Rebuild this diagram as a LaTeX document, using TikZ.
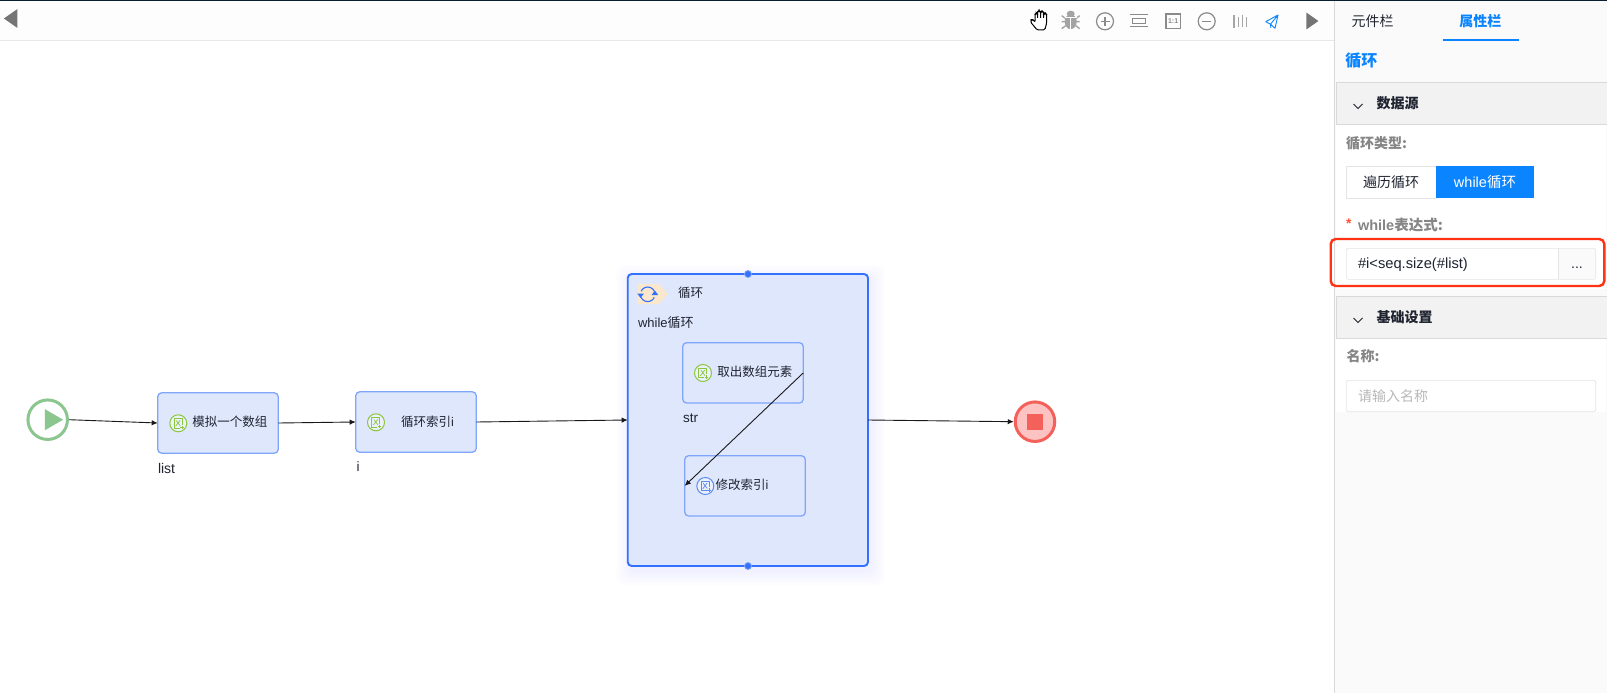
\documentclass[tikz,border=0pt]{standalone}
\usepackage{fontspec}
\setmainfont{Liberation Sans}
\newfontfamily\cjk{Noto Sans CJK SC}
\usetikzlibrary{arrows.meta,shapes.geometric}
\definecolor{boxfill}{HTML}{DFE7FD}
\definecolor{boxline}{HTML}{7FA6FB}
\definecolor{loopline}{HTML}{3370FF}
\definecolor{uiblue}{HTML}{0A84FF}
\definecolor{panelbg}{HTML}{FAFAFA}
\definecolor{headbg}{HTML}{F2F2F2}
\definecolor{rulegrey}{HTML}{D9D9D9}
\definecolor{toolgrey}{HTML}{8A8A8A}
\definecolor{labelgrey}{HTML}{858585}
\definecolor{startgreen}{HTML}{8CC68F}
\definecolor{endred}{HTML}{F4605A}
\definecolor{endfill}{HTML}{FDC3C3}
\definecolor{icongreen}{HTML}{8CC63F}
\definecolor{iconblue}{HTML}{5E8CF5}
\definecolor{tagfill}{HTML}{FBE8CC}
\definecolor{redframe}{HTML}{FF3314}
\definecolor{inkdark}{HTML}{1F2430}
\definecolor{topline}{HTML}{0A1E33}
\tikzset{
  x=1pt,y=-1pt,
  txt/.style={inner sep=0,outer sep=0,text=inkdark,font=\fontsize{12.5}{14}\selectfont},
  ltxt/.style={txt,anchor=west},
  paneltxt/.style={ltxt,font=\fontsize{14}{16}\selectfont},
  headtxt/.style={ltxt,font=\fontsize{14}{16}\selectfont\bfseries},
  formlabel/.style={ltxt,text=labelgrey,font=\fontsize{14}{16}\selectfont\bfseries},
  procbox/.style={draw=boxline,fill=boxfill,line width=1.3pt,rounded corners=4pt,minimum width=120.6pt,minimum height=60.4pt,inner sep=0,outer sep=0},
  loopbox/.style={draw=loopline,fill=boxfill,line width=1.9pt,rounded corners=4pt,minimum width=240.3pt,minimum height=292pt,inner sep=0,outer sep=0},
  flow/.style={draw=black!90,line width=.9pt,-{Latex[length=6pt,width=5.5pt]}},
  handle/.style={circle,fill=loopline,draw=boxline,line width=.8pt,minimum size=7pt,inner sep=0},
  tool/.style={draw=toolgrey,line width=1.2pt},
  chevron/.style={draw=inkdark,line width=.9pt},
  framebox/.style={draw=rulegrey!70,fill=white,line width=.6pt,rounded corners=1.5pt,inner sep=0,outer sep=0},
  pics/taskicon/.style={code={
    \draw[#1,line width=1pt,fill=white!40!boxfill] (0,0) circle (8.5);
    \draw[#1,line width=.8pt] (3.8,1.2) -- (3.8,-4.8) -- (-4.4,-4.8) -- (-4.4,4.6) -- (1.2,4.6);
    \draw[#1,line width=.7pt] (-2.6,2.8) -- (1.8,-3) (-2.2,-2.8) -- (2,2.6);
    \draw[#1,line width=.8pt] (2,4) -- (5.4,4) (3.7,2.4) -- (3.7,5.6);
  }}
}
\begin{document}
\begin{tikzpicture}
\useasboundingbox (0,0) rectangle (1607,693);
\fill[white] (0,0) rectangle (1607,693);
% top bar
\fill[panelbg!40!white] (0,0) rectangle (1334,40);
\draw[rulegrey!60,line width=.8pt] (0,40.5) -- (1334,40.5);
\fill[topline] (0,0) rectangle (1607,1);
% side panel
\fill[panelbg] (1334,1) rectangle (1607,693);
\draw[rulegrey,line width=1pt] (1334.3,1) -- (1334.3,693);
% toolbar triangles
\node[isosceles triangle,isosceles triangle apex angle=70,shape border rotate=180,fill=toolgrey!85!black,inner sep=0,minimum height=11pt,minimum width=19pt] (backtri) at (12.5,18.5) {};
\node[isosceles triangle,isosceles triangle apex angle=70,fill=toolgrey!85!black,inner sep=0,minimum height=11pt,minimum width=17pt] (fwdtri) at (1310.7,21) {};
% hand
\draw[black,line width=1pt,rounded corners=1.2pt,fill=white,shift={(1040,20.2)}]
 (-3,9.6) -- (-9.3,2) -- (-8.9,-.5) -- (-6.8,-.5) -- (-5,2) -- (-5,-6) -- (-3.7,-7.2) -- (-2.4,-6) -- (-2.4,-1) -- (-2.4,-8.5) -- (-1,-9.7) -- (.6,-8.5) -- (.6,-1) -- (.6,-8) -- (2.1,-9) -- (3.6,-8) -- (3.6,-1) -- (3.6,-6) -- (5,-7) -- (6.6,-6) -- (6.6,3) -- (4.8,9.6) -- cycle;
% bug
\begin{scope}[shift={(1070.7,19.7)}]
\fill[black!36] (0,2) ellipse (6 and 7.5);
\fill[black!36] (0,-6) ellipse (4 and 3);
\draw[black!36,line width=1.4pt] (-9,-4) -- (-5,-1) (9,-4) -- (5,-1) (-9,2) -- (-5,2) (9,2) -- (5,2) (-9,9) -- (-5,6) (9,9) -- (5,6);
\draw[white,line width=.7pt] (0,-2) -- (0,10) (-6,-2.4) -- (6,-2.4);
\end{scope}
% plus
\draw[tool] (1105,21.3) circle (8.5);
\draw[tool] (1100.5,21.3) -- (1109.5,21.3) (1105,16.8) -- (1105,25.8);
% fit
\draw[tool] (1130,14.3) -- (1147.7,14.3) (1130,26.7) -- (1147.7,26.7);
\draw[tool] (1132.6,18.3) rectangle (1145.4,23.7);
% one to one
\draw[tool] (1166,14) rectangle (1180.3,28.3);
\node[inner sep=0,text=toolgrey,font=\fontsize{7}{8}\selectfont\bfseries] (onetoone) at (1173.1,21) {1:1};
% minus
\draw[tool] (1206.7,21.3) circle (8.5);
\draw[tool] (1202.2,21.3) -- (1211.2,21.3);
% bars
\draw[black!35,line width=1.5pt] (1234,15) -- (1234,28.5) (1238.3,16.7) -- (1238.3,26.7) (1242.3,15) -- (1242.3,27.5) (1246.3,17.5) -- (1246.3,26.7);
% send
\draw[uiblue,line width=.9pt,line join=round] (1265.7,21.7) -- (1278,15) -- (1275,28.3) -- (1270.5,24.2) -- cycle (1278,15) -- (1270.5,24.2) -- (1270.8,27.8);
% tabs
\node[paneltxt] (tabA) at (1351.7,21) {\cjk 元件栏};
\node[paneltxt,text=uiblue] (tabB) at (1459.3,21) {\cjk\bfseries 属性栏};
\fill[uiblue] (1443,39) rectangle (1519,40.8);
\node[ltxt,text=uiblue,font=\fontsize{16}{18}\selectfont\bfseries] (paneltitle) at (1345.3,60.7) {\cjk 循环};
% section 1
\draw[rulegrey,line width=.8pt,fill=headbg] (1336,82.5) rectangle (1607,124.8);
\draw[chevron] (1353.5,104) -- (1358,108.5) -- (1362.5,104);
\node[headtxt] (secA) at (1376.7,103) {\cjk 数据源};
\fill[white] (1336,125.3) rectangle (1606,289);
\node[formlabel] (typelabel) at (1346,143.2) {\cjk\bfseries 循环类型:};
\node[draw=rulegrey!70,fill=white,line width=.6pt,minimum width=89.7pt,minimum height=32pt,inner sep=0,outer sep=0] (btnA) at (1391.2,182) {};
\node[txt,font=\fontsize{14}{16}\selectfont] at (btnA) {\cjk 遍历循环};
\node[fill=uiblue,minimum width=98pt,minimum height=32pt,inner sep=0,outer sep=0] (btnB) at (1485,182) {};
\node[txt,text=white,font=\fontsize{14.5}{16}\selectfont] at (btnB) {while{\cjk 循环}};
% while expression
\node[ltxt,text=redframe!85,font=\fontsize{14}{16}\selectfont\bfseries] (star) at (1346,224) {*};
\node[formlabel,font=\fontsize{14.5}{16}\selectfont\bfseries] (whilelabel) at (1358,224.6) {while{\cjk\bfseries 表达式:}};
\node[framebox,minimum width=249.4pt,minimum height=31pt] (expr) at (1471,263.8) {};
\fill[panelbg] (1558.3,248.6) rectangle (1595.4,279);
\draw[rulegrey!70,line width=.6pt] (1558.3,248.3) -- (1558.3,279.3);
\node[ltxt,text=inkdark,font=\fontsize{14.7}{16}\selectfont] (exprtxt) at (1358,264.3) {\#i<seq.size(\#list)};
\node[txt,font=\fontsize{14}{16}\selectfont,anchor=base] (dots) at (1577,268.5) {...};
\draw[redframe,line width=2.4pt,rounded corners=5pt] (1330.7,239) rectangle (1604.3,286);
% section 2
\fill[panelbg] (1336,289) rectangle (1606,296);
\draw[rulegrey,line width=.8pt,fill=headbg] (1336,296) rectangle (1607,338.7);
\draw[chevron] (1353.5,318) -- (1358,322.5) -- (1362.5,318);
\node[headtxt] (secB) at (1376.7,317.3) {\cjk 基础设置};
\fill[white] (1336,339.2) rectangle (1606,411.7);
\node[formlabel] (namelabel) at (1346.7,356.5) {\cjk\bfseries 名称:};
\node[framebox,minimum width=249.4pt,minimum height=31.4pt] (nameinput) at (1471,396) {};
\node[ltxt,text=black!28,font=\fontsize{14}{16}\selectfont] (placeholder) at (1358,396) {\cjk 请输入名称};
% loop shadow
\foreach \g in {14,12,10,8,6,4,2}{
  \fill[loopline,opacity=.008,rounded corners=8pt] (627.7-\g+3,274-\g+5) rectangle (868+\g+3,566+\g+5);
}
% graph
\node[circle,draw=startgreen,fill=white,line width=3pt,minimum size=39.5pt,inner sep=0,outer sep=1.5pt] (start) at (47.7,419.7) {};
\node[isosceles triangle,isosceles triangle apex angle=60,fill=startgreen,inner sep=0,minimum height=18pt,minimum width=21pt] (starttri) at (51,419.7) {};
\node[procbox] (listbox) at (218,423) {};
\node[procbox] (indexbox) at (416,422) {};
\node[loopbox] (loop) at (747.85,420) {};
\node[handle] (handletop) at (748,274) {};
\node[handle] (handlebot) at (748,566) {};
\node[circle,draw=endred,fill=endfill,line width=3pt,minimum size=39.5pt,inner sep=0,outer sep=1.5pt] (endnode) at (1035,421.7) {};
\node[fill=endred,minimum size=16pt,inner sep=0] (endsq) at (1035,422) {};
\node[procbox] (takebox) at (743,372.85) {};
\node[procbox] (modbox) at (745,485.85) {};
% node icons
\pic at (178.3,423.3) {taskicon=icongreen};
\pic at (376,422.3) {taskicon=icongreen};
\pic at (703,373) {taskicon=icongreen};
\pic at (705.3,486) {taskicon=iconblue};
% labels
\node[ltxt] (listtxt) at (192.3,421.7) {\cjk 模拟一个数组};
\node[ltxt] (indextxt) at (401,421.3) {{\cjk 循环索引}i};
\node[ltxt] (taketxt) at (717.3,371.7) {\cjk 取出数组元素};
\node[ltxt] (modtxt) at (715.7,485) {{\cjk 修改索引}i};
\node[ltxt,font=\fontsize{14}{16}\selectfont] (listname) at (158,468) {list};
\node[ltxt,font=\fontsize{13.5}{16}\selectfont] (iname) at (356.5,466.7) {i};
\node[ltxt,font=\fontsize{13.5}{16}\selectfont] (strname) at (683,418) {str};
\node[ltxt,font=\fontsize{13}{14}\selectfont] (whiletxt) at (638,322.7) {while{\cjk 循环}};
% loop badge
\fill[tagfill] (637.7,284) -- (659,284) -- (667.7,294) -- (659,304) -- (637.7,304) -- cycle;
\draw[loopline,line width=1.1pt] (647.7,294.3) ++(25:7.3) arc (25:155:7.3) (647.7,294.3) ++(205:7.3) arc (205:335:7.3);
\fill[loopline] (637.2,293.5) -- (644,293.5) -- (640.6,298) -- cycle (651.6,295) -- (658.2,295) -- (654.9,290.6) -- cycle;
\node[ltxt] (looptxt) at (678,292.7) {\cjk 循环};
% connectors
\draw[flow] (start.east) -- (listbox.west);
\draw[flow] (listbox.east) -- (indexbox.west);
\draw[flow] (indexbox.east) -- (loop.west);
\draw[flow] (loop.east) -- (endnode.west);
\draw[flow] (takebox.east) -- (modbox.west);
\end{tikzpicture}
\end{document}
